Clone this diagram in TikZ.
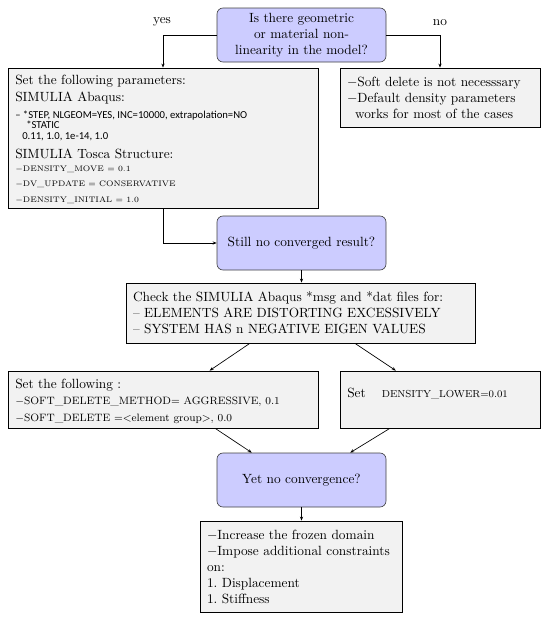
\documentclass[tikz,border=0pt]{standalone}
\usepackage{fontspec}
\newfontfamily\abqfont{Carlito}
\usetikzlibrary{arrows.meta,calc}
\definecolor{decfill}{HTML}{CCCCFF}
\definecolor{boxfill}{HTML}{F2F2F2}
\newcommand{\toscafont}{\fontsize{6}{7}\selectfont}
\newcommand{\abqsmall}{\abqfont\fontsize{8}{9}\selectfont}
\begin{document}
\begin{tikzpicture}[x=0.75pt,y=-0.75pt,
  decision/.style={draw=black!75, fill=decfill, rounded corners=4.5pt, minimum width=126.75pt, minimum height=40.5pt, align=center, inner sep=0pt, line width=0.5pt},
  infobox/.style={draw=black, fill=boxfill, line width=0.6pt, inner sep=0pt},
  txtbox/.style={infobox, align=left, inner xsep=5.25pt, inner ysep=0pt},
  line/.style={anchor=base west, inner sep=0pt},
  conn/.style={line width=0.5pt, -{Stealth[length=3pt,width=2.4pt]}},
  lbl/.style={inner sep=0pt}
]
\useasboundingbox (0,0) rectangle (547,618);

% decision nodes
\node[decision] (dec) at (301.5,35) {Is there geometric\\or material non-\\linearity in the model?};
\node[decision] (still) at (301.5,243) {Still no converged result?};
\node[decision] (yet) at (301.5,480) {Yet no convergence?};

% parameter box
\node[infobox, minimum width=232.5pt, minimum height=105pt] (params) at (163,138) {};
\node[line] (p1) at (15,84) {Set the following parameters:};
\node[line] (p2) at (15,101) {SIMULIA Abaqus:};
\node[line] (p3) at (15,118) {\abqsmall – *STEP, NLGEOM=YES, INC=10000, extrapolation=NO};
\node[line] (p4) at (26,128.5) {\abqsmall *STATIC};
\node[line] (p5) at (22,139) {\abqsmall 0.11, 1.0, 1e-14, 1.0};
\node[line] (p6) at (15,158) {SIMULIA Tosca Structure:};
\node[line] (p7) at (15,171) {\toscafont $-$DENSITY\_MOVE = 0.1};
\node[line] (p8) at (15,186.5) {\toscafont $-$DV\_UPDATE = CONSERVATIVE};
\node[line] (p9) at (15,202) {\toscafont $-$DENSITY\_INITIAL = 1.0};

% no box
\node[txtbox, text width=139.5pt, minimum height=44.25pt] (nobox) at (440,97.5)
  {$-$Soft delete is not necesssary\\$-$Default density parameters\\\hspace*{0.6em}works for most of the cases};

% check box
\node[txtbox, text width=251.25pt, minimum height=45pt] (check) at (300.5,313)
  {Check the SIMULIA Abaqus *msg and *dat files for:\\-- ELEMENTS ARE DISTORTING EXCESSIVELY\\-- SYSTEM HAS n NEGATIVE EIGEN VALUES};

% set box
\node[infobox, minimum width=232.5pt, minimum height=42.75pt] (setbox) at (163,399.5) {};
\node[line] (s1) at (15,388) {Set the following :};
\node[line] (s2) at (15,404) {\footnotesize $-$SOFT\_DELETE\_METHOD= AGGRESSIVE, 0.1};
\node[line] (s3) at (15,421) {\footnotesize $-$SOFT\_DELETE =$<$element group$>$, 0.0};

% density box
\node[infobox, minimum width=150pt, minimum height=42.75pt] (dens) at (440,399.5) {};
\node[line] (d1) at (347,397) {Set\hspace{12pt}{\fontsize{7.6}{9}\selectfont DENSITY\_LOWER=0.01}};

% final box
\node[txtbox, text width=141pt, minimum height=68.25pt] (final) at (301,566.5)
  {$-$Increase the frozen domain\\$-$Impose additional constraints\\on:\\1.\ Displacement\\1.\ Stiffness};

% labels
\node[lbl] (yes) at (162,22) {yes};
\node[lbl] (no) at (440,23) {no};

% connectors
\draw[conn] (dec.west) -| (params.north);
\draw[conn] (dec.east) -| (nobox.north);
\draw[conn] (params.south) |- (still.west);
\draw[conn] (still.south) -- (check.north -| still.south);
\draw[conn] ($(check.south west)!0.355!(check.south east)$) -- ($(setbox.north west)!0.65!(setbox.north east)$);
\draw[conn] ($(check.south west)!0.656!(check.south east)$) -- ($(dens.north west)!0.28!(dens.north east)$);
\draw[conn] ($(setbox.south west)!0.668!(setbox.south east)$) -- ($(yet.north west)!0.207!(yet.north east)$);
\draw[conn] ($(dens.south west)!0.25!(dens.south east)$) -- ($(yet.north west)!0.787!(yet.north east)$);
\draw[conn] (yet.south) -- (final.north -| yet.south);
\end{tikzpicture}
\end{document}
